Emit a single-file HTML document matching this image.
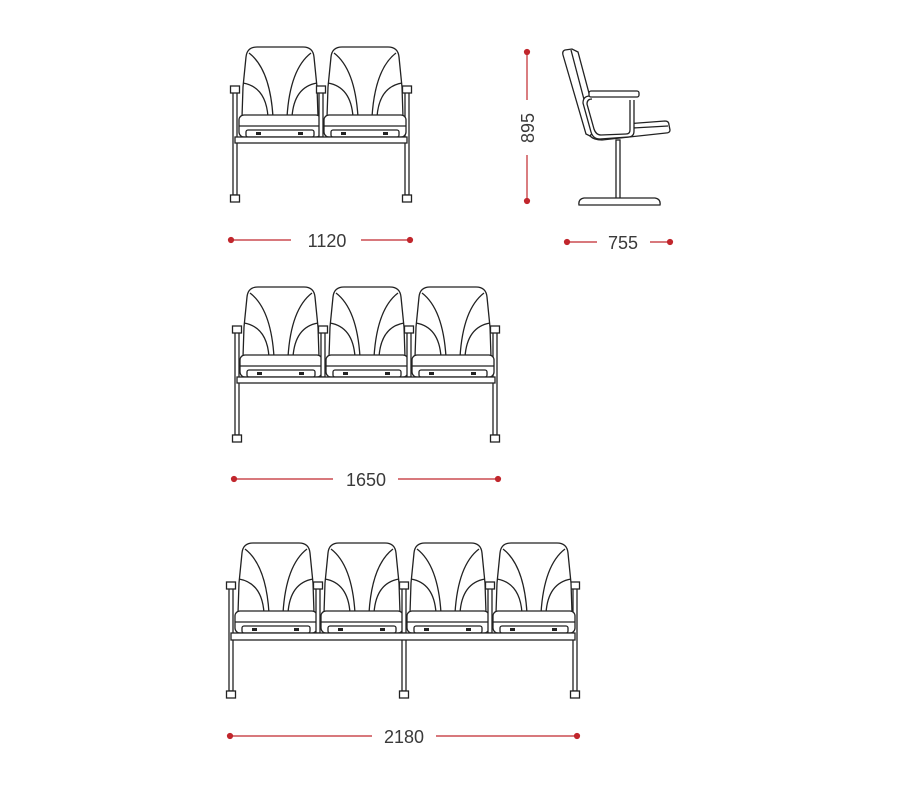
<!DOCTYPE html>
<html><head><style>html,body{margin:0;padding:0;background:#fff}svg{display:block}</style></head>
<body>
<svg width="900" height="798" viewBox="0 0 900 798" xmlns="http://www.w3.org/2000/svg">
<defs>
<g id="seat" fill="#fff" stroke="#222" stroke-width="1.3">
  <path d="M2,70 L3,40 L6,10 Q7,0 17,0 L63,0 Q73,0 74,10 L77,40 L78,70 Z"/>
  <path d="M9,6 Q30,22 33,70" fill="none"/>
  <path d="M71,6 Q50,22 47,70" fill="none"/>
  <path d="M3,36 Q26,40 28,70" fill="none"/>
  <path d="M77,36 Q54,40 52,70" fill="none"/>
  <rect x="-1" y="68" width="82" height="22" rx="5"/>
  <line x1="-1" y1="79" x2="81" y2="79"/>
  <rect x="6" y="83" width="68" height="7" rx="2"/>
  <rect x="16" y="85" width="5" height="3" fill="#222" stroke="none"/>
  <rect x="58" y="85" width="5" height="3" fill="#222" stroke="none"/>
</g>
<g id="post" fill="#fff" stroke="#222" stroke-width="1.3">
  <rect x="-2" y="44" width="4" height="46"/>
  <rect x="-4.5" y="39" width="9" height="7"/>
</g>
<g id="leg" fill="#fff" stroke="#222" stroke-width="1.3">
  <rect x="-2" y="44" width="4" height="104"/>
  <rect x="-4.5" y="39" width="9" height="7"/>
  <rect x="-4.5" y="148" width="9" height="7"/>
</g>
<g id="ileg" fill="#fff" stroke="#222" stroke-width="1.3">
  <rect x="-2" y="96" width="4" height="52"/>
  <rect x="-4.5" y="148" width="9" height="7"/>
</g>
</defs>

<!-- Row 1 -->
<g transform="translate(0,47)">
  <use href="#leg" x="235"/>
  <use href="#leg" x="407"/>
  <use href="#seat" x="240"/>
  <use href="#seat" x="325"/>
  <use href="#post" x="321"/>
  <rect x="235" y="90" width="172" height="6" fill="#fff" stroke="#222" stroke-width="1.3"/>
</g>

<!-- Row 2 -->
<g transform="translate(0,287)">
  <use href="#leg" x="237"/>
  <use href="#leg" x="495"/>
  <use href="#seat" x="241"/>
  <use href="#seat" x="327"/>
  <use href="#seat" x="413"/>
  <use href="#post" x="323"/>
  <use href="#post" x="409"/>
  <rect x="237" y="90" width="258" height="6" fill="#fff" stroke="#222" stroke-width="1.3"/>
</g>

<!-- Row 3 -->
<g transform="translate(0,543)">
  <use href="#leg" x="231"/>
  <use href="#leg" x="575"/>
  <use href="#ileg" x="404"/>
  <use href="#seat" x="236"/>
  <use href="#seat" x="322"/>
  <use href="#seat" x="408"/>
  <use href="#seat" x="494"/>
  <use href="#post" x="318"/>
  <use href="#post" x="404"/>
  <use href="#post" x="490"/>
  <rect x="231" y="90" width="344" height="7" fill="#fff" stroke="#222" stroke-width="1.3"/>
</g>

<!-- Side view -->
<g fill="#fff" stroke="#222" stroke-width="1.3">
  <rect x="616" y="140" width="4" height="59"/>
  <path d="M579,205 Q578,199 584,198 L655,198 Q661,199 660,205 Z"/>
  <path d="M565,50 L572,49 L578,52 L598,127 L590,136 L586,134 L563,55 Q562,51 565,50 Z"/>
  <path d="M571,50 L592,130"/>
  <path d="M590,136 L598,126 L665,121 Q669,121 669,125 L670,130 Q670,133 666,133 L602,140 Q594,140 590,136 Z"/>
  <path d="M598,130 L668,126"/>
  <path d="M590,96 Q583,96 583,103 L591,132 Q593,139 600,139 L628,137 Q634,137 634,131 L634,100"/>
  <path d="M592,99 Q587,99 587,104 L594,129 Q596,135 601,135 L626,134 Q630,134 630,130 L630,100"/>
  <rect x="589" y="91" width="50" height="6" rx="2"/>
</g>

<!-- Dimensions -->
<g stroke="#c1272d" stroke-width="1.2" fill="#c1272d">
  <line x1="231" y1="240" x2="291" y2="240"/><line x1="361" y1="240" x2="410" y2="240"/>
  <circle cx="231" cy="240" r="2.5"/><circle cx="410" cy="240" r="2.5"/>
  <line x1="234" y1="479" x2="333" y2="479"/><line x1="398" y1="479" x2="498" y2="479"/>
  <circle cx="234" cy="479" r="2.5"/><circle cx="498" cy="479" r="2.5"/>
  <line x1="230" y1="736" x2="372" y2="736"/><line x1="436" y1="736" x2="577" y2="736"/>
  <circle cx="230" cy="736" r="2.5"/><circle cx="577" cy="736" r="2.5"/>
  <line x1="567" y1="242" x2="597" y2="242"/><line x1="650" y1="242" x2="670" y2="242"/>
  <circle cx="567" cy="242" r="2.5"/><circle cx="670" cy="242" r="2.5"/>
  <line x1="527" y1="52" x2="527" y2="100"/><line x1="527" y1="155" x2="527" y2="201"/>
  <circle cx="527" cy="52" r="2.5"/><circle cx="527" cy="201" r="2.5"/>
</g>
<g fill="#3a3a3a" font-family="Liberation Sans, sans-serif" font-size="18" text-anchor="middle">
  <text x="327" y="247">1120</text>
  <text x="366" y="486">1650</text>
  <text x="404" y="743">2180</text>
  <text x="623" y="249">755</text>
  <text transform="translate(534,128) rotate(-90)">895</text>
</g>
</svg>
</body></html>
